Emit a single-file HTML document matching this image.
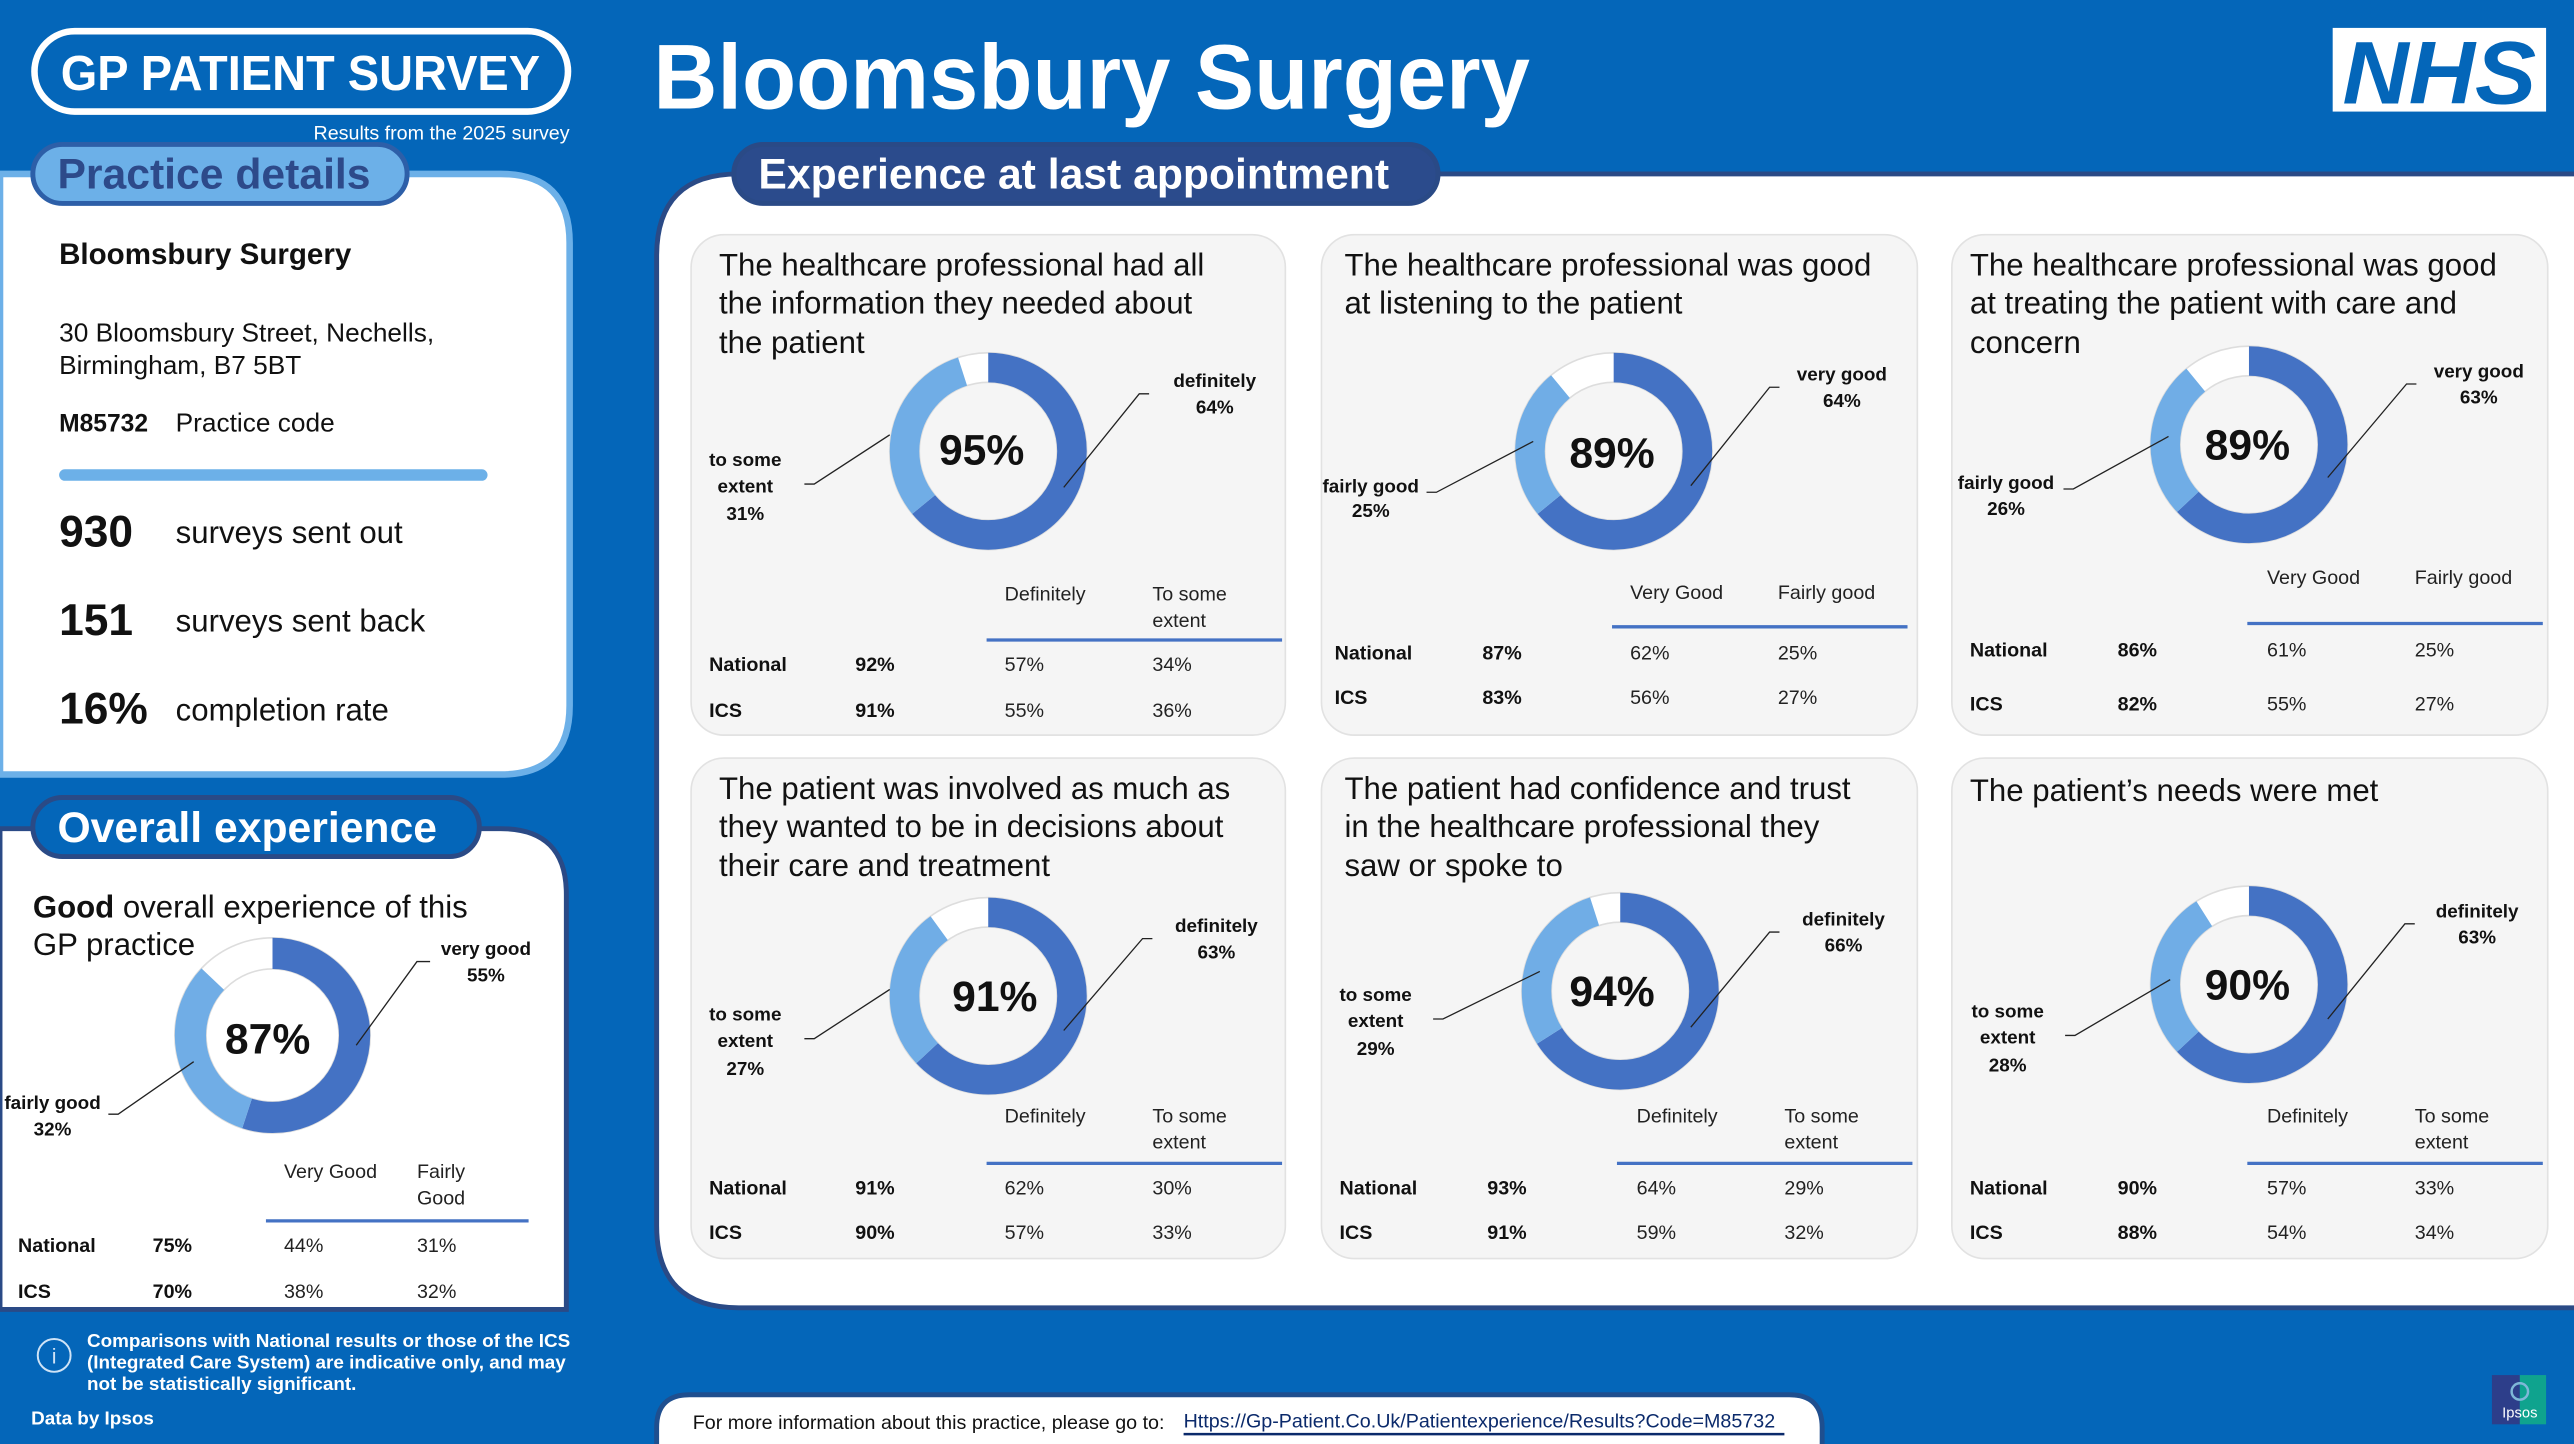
<!DOCTYPE html>
<html><head><meta charset="utf-8">
<style>
html,body{margin:0;padding:0;background:#0466b9;}
svg{display:block;font-family:"Liberation Sans",Arial,sans-serif;}
.t{font-size:19px;fill:#111;}
.lb{font-size:11.5px;font-weight:bold;fill:#111;text-anchor:middle;}
.th{font-size:12px;fill:#222;}
.tb{font-size:12px;font-weight:bold;fill:#111;}
.tv{font-size:12px;fill:#222;}
.ld{stroke:#222;stroke-width:0.8;fill:none;}
</style></head><body>
<svg width="2574" height="1444" viewBox="0 0 1568 880" preserveAspectRatio="none" xmlns="http://www.w3.org/2000/svg">
<rect width="1568" height="880" fill="#0466b9"/>

<!-- header -->
<rect x="21" y="19" width="325" height="49" rx="24.5" fill="none" stroke="#fff" stroke-width="4"/>
<text x="37" y="55" font-size="30" font-weight="bold" fill="#fff" textLength="292" lengthAdjust="spacingAndGlyphs">GP PATIENT SURVEY</text>
<text x="347" y="85" font-size="12" fill="#fff" text-anchor="end">Results from the 2025 survey</text>
<text x="398" y="66" font-size="56" font-weight="bold" fill="#fff" textLength="534" lengthAdjust="spacingAndGlyphs">Bloomsbury Surgery</text>
<rect x="1421" y="17" width="130" height="51" fill="#fff"/>
<text x="1486" y="63" font-size="54" font-weight="bold" font-style="italic" fill="#0466b9" text-anchor="middle" textLength="118" lengthAdjust="spacingAndGlyphs">NHS</text>

<!-- practice details panel -->
<path d="M0 106 H305 Q347 106 347 148 V430 Q347 472 305 472 H0 Z" fill="#fff" stroke="#6cb0e8" stroke-width="4"/>
<rect x="20" y="88" width="228" height="36" rx="18" fill="#6cb0e8" stroke="#2d5fa8" stroke-width="3"/>
<text x="35" y="115" font-size="26" font-weight="bold" fill="#2d4a8a">Practice details</text>
<text x="36" y="161" font-size="18" font-weight="bold" fill="#111">Bloomsbury Surgery</text>
<text x="36" y="208" font-size="16" fill="#111">30 Bloomsbury Street, Nechells,</text>
<text x="36" y="228" font-size="16" fill="#111">Birmingham, B7 5BT</text>
<text x="36" y="263" font-size="15" font-weight="bold" fill="#111">M85732</text>
<text x="107" y="263" font-size="16" fill="#111">Practice code</text>
<rect x="36" y="286" width="261" height="7" rx="3.5" fill="#6cb0e8"/>
<text x="36" y="333" font-size="27" font-weight="bold" fill="#111">930</text>
<text x="107" y="331" font-size="19" fill="#111">surveys sent out</text>
<text x="36" y="387" font-size="27" font-weight="bold" fill="#111">151</text>
<text x="107" y="385" font-size="19" fill="#111">surveys sent back</text>
<text x="36" y="441" font-size="27" font-weight="bold" fill="#111">16%</text>
<text x="107" y="439" font-size="19" fill="#111">completion rate</text>

<!-- overall experience panel -->
<path d="M0 505 H305 Q345 505 345 545 V798 H0 Z" fill="#fff" stroke="#2a4a86" stroke-width="3"/>
<rect x="20" y="486" width="272" height="36" rx="18" fill="#0466b9" stroke="#2a4a86" stroke-width="3"/>
<text x="35" y="513" font-size="26" font-weight="bold" fill="#fff">Overall experience</text>
<text x="20" y="559" font-size="19" fill="#111"><tspan font-weight="bold">Good</tspan> overall experience of this</text>
<text x="20" y="582" font-size="19" fill="#111">GP practice</text>
<g transform="translate(166,631) rotate(-90)">
<circle r="50" fill="none" stroke="#ddd" stroke-width="20"/><circle r="50" fill="none" stroke="#fff" stroke-width="18"/>
<circle r="50" fill="none" stroke="#4472c4" stroke-width="19" stroke-dasharray="172.79 400"/>
<circle r="50" fill="none" stroke="#70ade6" stroke-width="19" stroke-dasharray="100.53 400" stroke-dashoffset="-172.79"/>
</g>
<text x="163" y="642" font-size="26" font-weight="bold" fill="#111" text-anchor="middle">87%</text>
<text x="296" y="582" class="lb">very good</text><text x="296" y="598" class="lb">55%</text>
<path class="ld" d="M262 586 H254 L217 637"/>
<text x="32" y="676" class="lb">fairly good</text><text x="32" y="692" class="lb">32%</text>
<path class="ld" d="M66 679 H72 L118 647"/>
<text x="173" y="718" class="th">Very Good</text>
<text x="254" y="718" class="th">Fairly</text><text x="254" y="734" class="th">Good</text>
<line x1="162" y1="744" x2="322" y2="744" stroke="#4472c4" stroke-width="2"/>
<text x="11" y="763" class="tb">National</text><text x="93" y="763" class="tb">75%</text><text x="173" y="763" class="tv">44%</text><text x="254" y="763" class="tv">31%</text>
<text x="11" y="791" class="tb">ICS</text><text x="93" y="791" class="tb">70%</text><text x="173" y="791" class="tv">38%</text><text x="254" y="791" class="tv">32%</text>

<!-- info -->
<circle cx="33" cy="826" r="10" fill="none" stroke="#cfe3f6" stroke-width="1.2"/>
<text x="33" y="831" font-size="13" fill="#cfe3f6" text-anchor="middle">i</text>
<text x="53" y="821" font-size="11.5" font-weight="bold" fill="#fff">Comparisons with National results or those of the ICS</text>
<text x="53" y="834" font-size="11.5" font-weight="bold" fill="#fff">(Integrated Care System) are indicative only, and may</text>
<text x="53" y="847" font-size="11.5" font-weight="bold" fill="#fff">not be statistically significant.</text>
<text x="19" y="868" font-size="11.5" font-weight="bold" fill="#fff">Data by Ipsos</text>

<!-- main panel -->
<path d="M450 106 H1572 V797 H450 Q400 797 400 747 V156 Q400 106 450 106 Z" fill="#fff" stroke="#2a4a86" stroke-width="3"/>
<rect x="447" y="88" width="429" height="36" rx="18" fill="#2b4b8c" stroke="#2a4a86" stroke-width="3"/>
<text x="462" y="115" font-size="26" font-weight="bold" fill="#fff">Experience at last appointment</text>

<!-- cards -->
<g fill="#f5f5f5" stroke="#e2e2e2" stroke-width="1">
<rect x="421" y="143" width="362" height="305" rx="20"/>
<rect x="805" y="143" width="363" height="305" rx="20"/>
<rect x="1189" y="143" width="363" height="305" rx="20"/>
<rect x="421" y="462" width="362" height="305" rx="20"/>
<rect x="805" y="462" width="363" height="305" rx="20"/>
<rect x="1189" y="462" width="363" height="305" rx="20"/>
</g>

<!-- card 1 -->
<text x="438" y="168" class="t">The healthcare professional had all</text>
<text x="438" y="191" class="t">the information they needed about</text>
<text x="438" y="215" class="t">the patient</text>
<g transform="translate(602,275) rotate(-90)">
<circle r="51" fill="none" stroke="#ddd" stroke-width="19"/><circle r="51" fill="none" stroke="#fff" stroke-width="17"/>
<circle r="51" fill="none" stroke="#4472c4" stroke-width="18" stroke-dasharray="205.1 400"/>
<circle r="51" fill="none" stroke="#70ade6" stroke-width="18" stroke-dasharray="99.3 400" stroke-dashoffset="-205.1"/>
</g>
<text x="598" y="283" font-size="26" font-weight="bold" fill="#111" text-anchor="middle">95%</text>
<text x="740" y="236" class="lb">definitely</text><text x="740" y="252" class="lb">64%</text>
<path class="ld" d="M700 240 H694 L648 297"/>
<text x="454" y="284" class="lb">to some</text><text x="454" y="300" class="lb">extent</text><text x="454" y="317" class="lb">31%</text>
<path class="ld" d="M490 295 H496 L542 265"/>
<text x="612" y="366" class="th">Definitely</text><text x="702" y="366" class="th">To some</text><text x="702" y="382" class="th">extent</text>
<line x1="601" y1="390" x2="781" y2="390" stroke="#4472c4" stroke-width="2"/>
<text x="432" y="409" class="tb">National</text><text x="521" y="409" class="tb">92%</text><text x="612" y="409" class="tv">57%</text><text x="702" y="409" class="tv">34%</text>
<text x="432" y="437" class="tb">ICS</text><text x="521" y="437" class="tb">91%</text><text x="612" y="437" class="tv">55%</text><text x="702" y="437" class="tv">36%</text>

<!-- card 2 -->
<text x="819" y="168" class="t">The healthcare professional was good</text>
<text x="819" y="191" class="t">at listening to the patient</text>
<g transform="translate(983,275) rotate(-90)">
<circle r="51" fill="none" stroke="#ddd" stroke-width="19"/><circle r="51" fill="none" stroke="#fff" stroke-width="17"/>
<circle r="51" fill="none" stroke="#4472c4" stroke-width="18" stroke-dasharray="205.1 400"/>
<circle r="51" fill="none" stroke="#70ade6" stroke-width="18" stroke-dasharray="80.1 400" stroke-dashoffset="-205.1"/>
</g>
<text x="982" y="285" font-size="26" font-weight="bold" fill="#111" text-anchor="middle">89%</text>
<text x="1122" y="232" class="lb">very good</text><text x="1122" y="248" class="lb">64%</text>
<path class="ld" d="M1084 236 H1078 L1030 296"/>
<text x="835" y="300" class="lb">fairly good</text><text x="835" y="315" class="lb">25%</text>
<path class="ld" d="M869 300 H875 L934 269"/>
<text x="993" y="365" class="th">Very Good</text><text x="1083" y="365" class="th">Fairly good</text>
<line x1="982" y1="382" x2="1162" y2="382" stroke="#4472c4" stroke-width="2"/>
<text x="813" y="402" class="tb">National</text><text x="903" y="402" class="tb">87%</text><text x="993" y="402" class="tv">62%</text><text x="1083" y="402" class="tv">25%</text>
<text x="813" y="429" class="tb">ICS</text><text x="903" y="429" class="tb">83%</text><text x="993" y="429" class="tv">56%</text><text x="1083" y="429" class="tv">27%</text>

<!-- card 3 -->
<text x="1200" y="168" class="t">The healthcare professional was good</text>
<text x="1200" y="191" class="t">at treating the patient with care and</text>
<text x="1200" y="215" class="t">concern</text>
<g transform="translate(1370,271) rotate(-90)">
<circle r="51" fill="none" stroke="#ddd" stroke-width="19"/><circle r="51" fill="none" stroke="#fff" stroke-width="17"/>
<circle r="51" fill="none" stroke="#4472c4" stroke-width="18" stroke-dasharray="201.9 400"/>
<circle r="51" fill="none" stroke="#70ade6" stroke-width="18" stroke-dasharray="83.3 400" stroke-dashoffset="-201.9"/>
</g>
<text x="1369" y="280" font-size="26" font-weight="bold" fill="#111" text-anchor="middle">89%</text>
<text x="1510" y="230" class="lb">very good</text><text x="1510" y="246" class="lb">63%</text>
<path class="ld" d="M1472 234 H1466 L1418 291"/>
<text x="1222" y="298" class="lb">fairly good</text><text x="1222" y="314" class="lb">26%</text>
<path class="ld" d="M1257 298 H1263 L1321 266"/>
<text x="1381" y="356" class="th">Very Good</text><text x="1471" y="356" class="th">Fairly good</text>
<line x1="1369" y1="380" x2="1549" y2="380" stroke="#4472c4" stroke-width="2"/>
<text x="1200" y="400" class="tb">National</text><text x="1290" y="400" class="tb">86%</text><text x="1381" y="400" class="tv">61%</text><text x="1471" y="400" class="tv">25%</text>
<text x="1200" y="433" class="tb">ICS</text><text x="1290" y="433" class="tb">82%</text><text x="1381" y="433" class="tv">55%</text><text x="1471" y="433" class="tv">27%</text>

<!-- card 4 -->
<text x="438" y="487" class="t">The patient was involved as much as</text>
<text x="438" y="510" class="t">they wanted to be in decisions about</text>
<text x="438" y="534" class="t">their care and treatment</text>
<g transform="translate(602,607) rotate(-90)">
<circle r="51" fill="none" stroke="#ddd" stroke-width="19"/><circle r="51" fill="none" stroke="#fff" stroke-width="17"/>
<circle r="51" fill="none" stroke="#4472c4" stroke-width="18" stroke-dasharray="201.9 400"/>
<circle r="51" fill="none" stroke="#70ade6" stroke-width="18" stroke-dasharray="86.5 400" stroke-dashoffset="-201.9"/>
</g>
<text x="606" y="616" font-size="26" font-weight="bold" fill="#111" text-anchor="middle">91%</text>
<text x="741" y="568" class="lb">definitely</text><text x="741" y="584" class="lb">63%</text>
<path class="ld" d="M702 572 H696 L648 628"/>
<text x="454" y="622" class="lb">to some</text><text x="454" y="638" class="lb">extent</text><text x="454" y="655" class="lb">27%</text>
<path class="ld" d="M490 633 H496 L542 603"/>
<text x="612" y="684" class="th">Definitely</text><text x="702" y="684" class="th">To some</text><text x="702" y="700" class="th">extent</text>
<line x1="601" y1="709" x2="781" y2="709" stroke="#4472c4" stroke-width="2"/>
<text x="432" y="728" class="tb">National</text><text x="521" y="728" class="tb">91%</text><text x="612" y="728" class="tv">62%</text><text x="702" y="728" class="tv">30%</text>
<text x="432" y="755" class="tb">ICS</text><text x="521" y="755" class="tb">90%</text><text x="612" y="755" class="tv">57%</text><text x="702" y="755" class="tv">33%</text>

<!-- card 5 -->
<text x="819" y="487" class="t">The patient had confidence and trust</text>
<text x="819" y="510" class="t">in the healthcare professional they</text>
<text x="819" y="534" class="t">saw or spoke to</text>
<g transform="translate(987,604) rotate(-90)">
<circle r="51" fill="none" stroke="#ddd" stroke-width="19"/><circle r="51" fill="none" stroke="#fff" stroke-width="17"/>
<circle r="51" fill="none" stroke="#4472c4" stroke-width="18" stroke-dasharray="211.5 400"/>
<circle r="51" fill="none" stroke="#70ade6" stroke-width="18" stroke-dasharray="92.9 400" stroke-dashoffset="-211.5"/>
</g>
<text x="982" y="613" font-size="26" font-weight="bold" fill="#111" text-anchor="middle">94%</text>
<text x="1123" y="564" class="lb">definitely</text><text x="1123" y="580" class="lb">66%</text>
<path class="ld" d="M1084 568 H1078 L1030 626"/>
<text x="838" y="610" class="lb">to some</text><text x="838" y="626" class="lb">extent</text><text x="838" y="643" class="lb">29%</text>
<path class="ld" d="M873 621 H879 L938 592"/>
<text x="997" y="684" class="th">Definitely</text><text x="1087" y="684" class="th">To some</text><text x="1087" y="700" class="th">extent</text>
<line x1="985" y1="709" x2="1165" y2="709" stroke="#4472c4" stroke-width="2"/>
<text x="816" y="728" class="tb">National</text><text x="906" y="728" class="tb">93%</text><text x="997" y="728" class="tv">64%</text><text x="1087" y="728" class="tv">29%</text>
<text x="816" y="755" class="tb">ICS</text><text x="906" y="755" class="tb">91%</text><text x="997" y="755" class="tv">59%</text><text x="1087" y="755" class="tv">32%</text>

<!-- card 6 -->
<text x="1200" y="488" class="t">The patient’s needs were met</text>
<g transform="translate(1370,600) rotate(-90)">
<circle r="51" fill="none" stroke="#ddd" stroke-width="19"/><circle r="51" fill="none" stroke="#fff" stroke-width="17"/>
<circle r="51" fill="none" stroke="#4472c4" stroke-width="18" stroke-dasharray="201.9 400"/>
<circle r="51" fill="none" stroke="#70ade6" stroke-width="18" stroke-dasharray="89.7 400" stroke-dashoffset="-201.9"/>
</g>
<text x="1369" y="609" font-size="26" font-weight="bold" fill="#111" text-anchor="middle">90%</text>
<text x="1509" y="559" class="lb">definitely</text><text x="1509" y="575" class="lb">63%</text>
<path class="ld" d="M1471 563 H1465 L1418 621"/>
<text x="1223" y="620" class="lb">to some</text><text x="1223" y="636" class="lb">extent</text><text x="1223" y="653" class="lb">28%</text>
<path class="ld" d="M1258 631 H1264 L1322 597"/>
<text x="1381" y="684" class="th">Definitely</text><text x="1471" y="684" class="th">To some</text><text x="1471" y="700" class="th">extent</text>
<line x1="1369" y1="709" x2="1549" y2="709" stroke="#4472c4" stroke-width="2"/>
<text x="1200" y="728" class="tb">National</text><text x="1290" y="728" class="tb">90%</text><text x="1381" y="728" class="tv">57%</text><text x="1471" y="728" class="tv">33%</text>
<text x="1200" y="755" class="tb">ICS</text><text x="1290" y="755" class="tb">88%</text><text x="1381" y="755" class="tv">54%</text><text x="1471" y="755" class="tv">34%</text>

<!-- footer -->
<path d="M400 890 V870 Q400 850 420 850 H1090 Q1110 850 1110 870 V890 Z" fill="#fff" stroke="#1f4f8f" stroke-width="3"/>
<text x="422" y="871" font-size="12" fill="#111">For more information about this practice, please go to:</text>
<text x="721" y="870" font-size="12" fill="#0b2a6b">Https://Gp-Patient.Co.Uk/Patientexperience/Results?Code=M85732</text>
<line x1="721" y1="874" x2="1087" y2="874" stroke="#0b2a6b" stroke-width="1.5"/>

<!-- ipsos -->
<rect x="1518" y="838" width="17" height="30" fill="#2d3e8a"/>
<rect x="1535" y="838" width="16" height="30" fill="#0fa38e"/>
<circle cx="1535" cy="848" r="5" fill="none" stroke="#7fb8d8" stroke-width="1.5"/>
<text x="1535" y="864" font-size="9" fill="#fff" text-anchor="middle">Ipsos</text>
</svg>
</body></html>
